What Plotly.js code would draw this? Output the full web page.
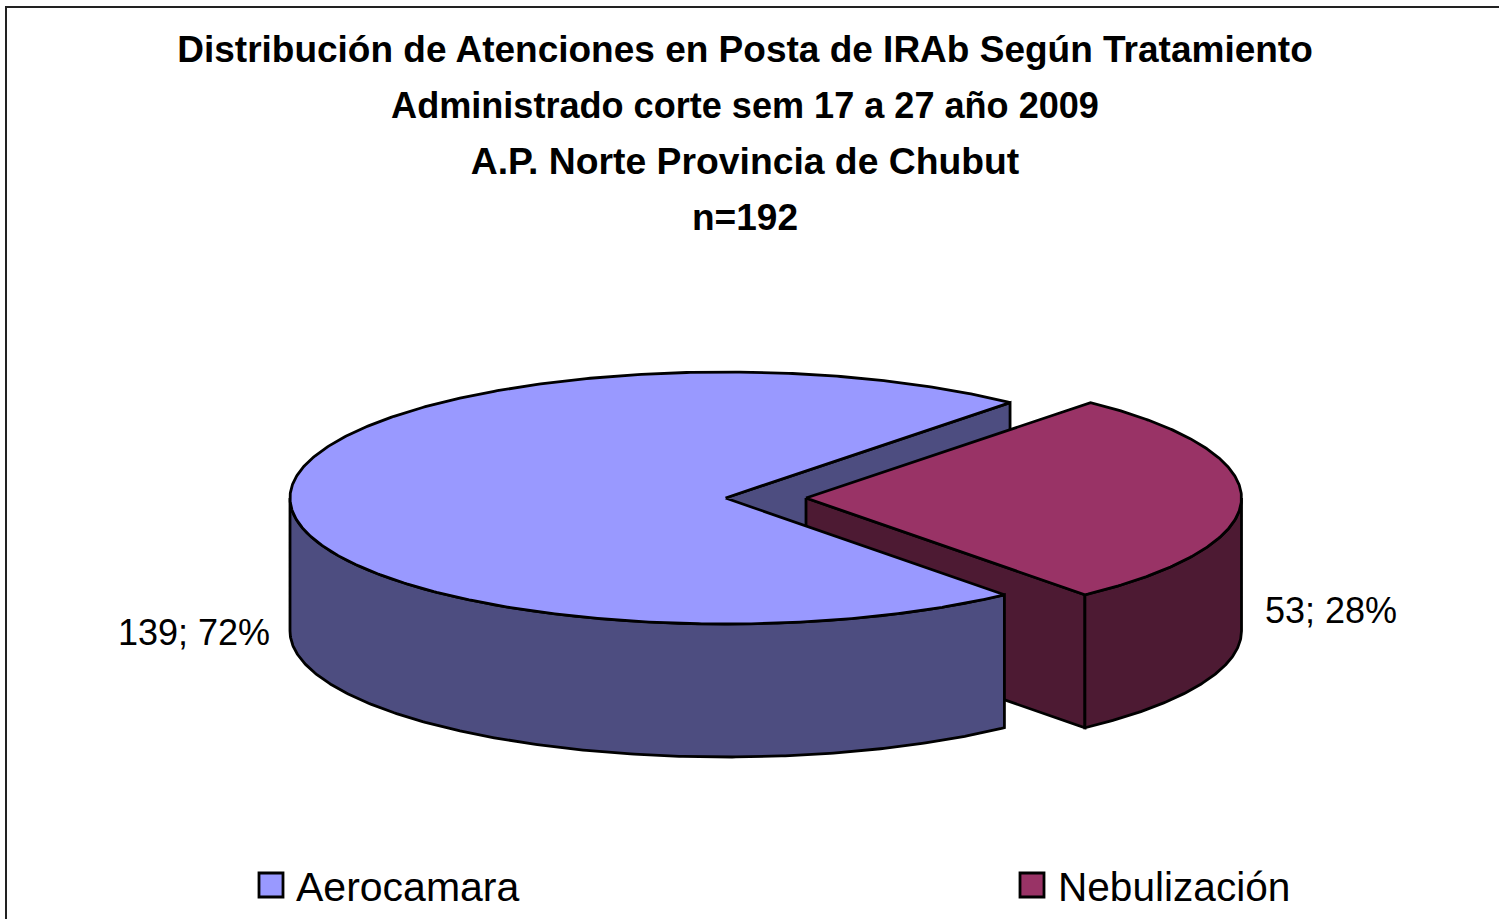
<!DOCTYPE html>
<html>
<head>
<meta charset="utf-8">
<script src="https://cdn.plot.ly/plotly-3.0.1.min.js"></script>
<style>html,body{margin:0;padding:0;background:#fff;overflow:hidden}</style>
</head>
<body>
<div id="chart" style="width:1499px;height:919px"></div>
<script>
var categories = ['Aerocamara', 'Nebulización'];
var values = [139, 53];
var titleLines = [
  'Distribución de Atenciones en Posta de IRAb Según Tratamiento',
  'Administrado corte sem 17 a 27 año 2009',
  'A.P. Norte Provincia de Chubut',
  'n=192'
];
var topColors = ['#9999FF', '#993366'];
var sideColors = ['#4D4D80', '#4D1A33'];

var total = values[0] + values[1];
var sweep0 = 360 * values[0] / total;
var sweep1 = 360 * values[1] / total;
var START = 49.2;          // first slice rotation, degrees
var RX = 435.5, RY = 126, DEPTH = 133, CY = 498;
var CX = [725.5, 806];     // the second slice is exploded to the right

function pt(cx, deg, dy) {
  var r = deg * Math.PI / 180;
  return [cx + RX * Math.cos(r), CY - RY * Math.sin(r) + (dy || 0)];
}
function arc(cx, a, b, dy) {
  var out = [], n = Math.max(2, Math.ceil(Math.abs(b - a) * 2));
  for (var i = 0; i <= n; i++) out.push(pt(cx, a + (b - a) * i / n, dy));
  return out;
}
function poly(points, fill, name) {
  var closed = points.concat([points[0]]);
  return {
    type: 'scatter', mode: 'lines', name: name, showlegend: false, hoverinfo: 'skip',
    x: closed.map(function (p) { return p[0]; }),
    y: closed.map(function (p) { return p[1]; }),
    fill: 'toself', fillcolor: fill,
    line: { color: '#000', width: 2.8, shape: 'linear' }
  };
}
function wall(cx, a, b, fill, name) {
  return poly(arc(cx, a, b, 0).concat(arc(cx, b, a, DEPTH)), fill, name);
}
function cutWall(cx, a, fill, name) {
  var e = pt(cx, a, 0), c = [cx, CY];
  return poly([c, e, [e[0], e[1] + DEPTH], [c[0], c[1] + DEPTH]], fill, name);
}

var blueEnd = START + sweep0;           // lower cut of the big slice
var redStart = START - sweep1;          // lower edge of the exploded slice

var traces = [
  cutWall(CX[0], START, sideColors[0], categories[0] + ' cara interior'),
  cutWall(CX[1], redStart, sideColors[1], categories[1] + ' cara interior'),
  wall(CX[1], redStart, 0, sideColors[1], categories[1] + ' lateral'),
  wall(CX[0], 180, blueEnd, sideColors[0], categories[0] + ' lateral'),
  poly([[CX[0], CY]].concat(arc(CX[0], START, blueEnd, 0)), topColors[0], categories[0]),
  poly([[CX[1], CY]].concat(arc(CX[1], redStart, START, 0)), topColors[1], categories[1]),
  {
    type: 'scatter', mode: 'markers', showlegend: false, hoverinfo: 'skip',
    x: [271, 1032], y: [885, 885],
    marker: { symbol: 'square', size: 24, color: topColors, line: { color: '#000', width: 2.8 } }
  }
];

function dataLabel(i) {
  return values[i] + '; ' + Math.round(100 * values[i] / total) + '%';
}
var FONT = '"Liberation Sans", Arial, sans-serif';
var annotations = [
  { x: 271, y: 632, xanchor: 'right', yanchor: 'middle', text: dataLabel(0), font: { size: 36 } },
  { x: 1264, y: 610, xanchor: 'left', yanchor: 'middle', text: dataLabel(1), font: { size: 36 } },
  { x: 295, y: 887, xanchor: 'left', yanchor: 'middle', text: categories[0], font: { size: 41 } },
  { x: 1057, y: 887, xanchor: 'left', yanchor: 'middle', text: categories[1], font: { size: 40.6 } }
].map(function (a) {
  a.xref = 'x'; a.yref = 'y'; a.showarrow = false; a.borderpad = 0;
  a.font.family = FONT; a.font.color = '#000';
  return a;
});

var lineFontSizes = [37, 36.1, 37.3, 37];
var layout = {
  width: 1499, height: 919,
  margin: { l: 0, r: 0, t: 0, b: 0 },
  paper_bgcolor: '#fff', plot_bgcolor: '#fff',
  showlegend: false,
  title: {
    text: titleLines.map(function (s, i) {
      return '<span style="font-size:' + lineFontSizes[i] + 'px">' + s + '</span>';
    }).join('<br>'),
    font: { family: FONT, size: 43, color: '#000', weight: 700 },
    xref: 'paper', yref: 'paper', x: 745 / 1499, xanchor: 'center', y: 0.932, yanchor: 'top'
  },
  xaxis: { range: [0, 1499], visible: false, fixedrange: true },
  yaxis: { range: [919, 0], visible: false, fixedrange: true },
  annotations: annotations,
  shapes: [{
    type: 'rect', xref: 'x', yref: 'y', x0: 6, y0: 7, x1: 1520, y1: 940,
    line: { color: '#222', width: 2 }, layer: 'below'
  }]
};
Plotly.newPlot('chart', traces, layout, { displayModeBar: false, staticPlot: true });
</script>
</body>
</html>
